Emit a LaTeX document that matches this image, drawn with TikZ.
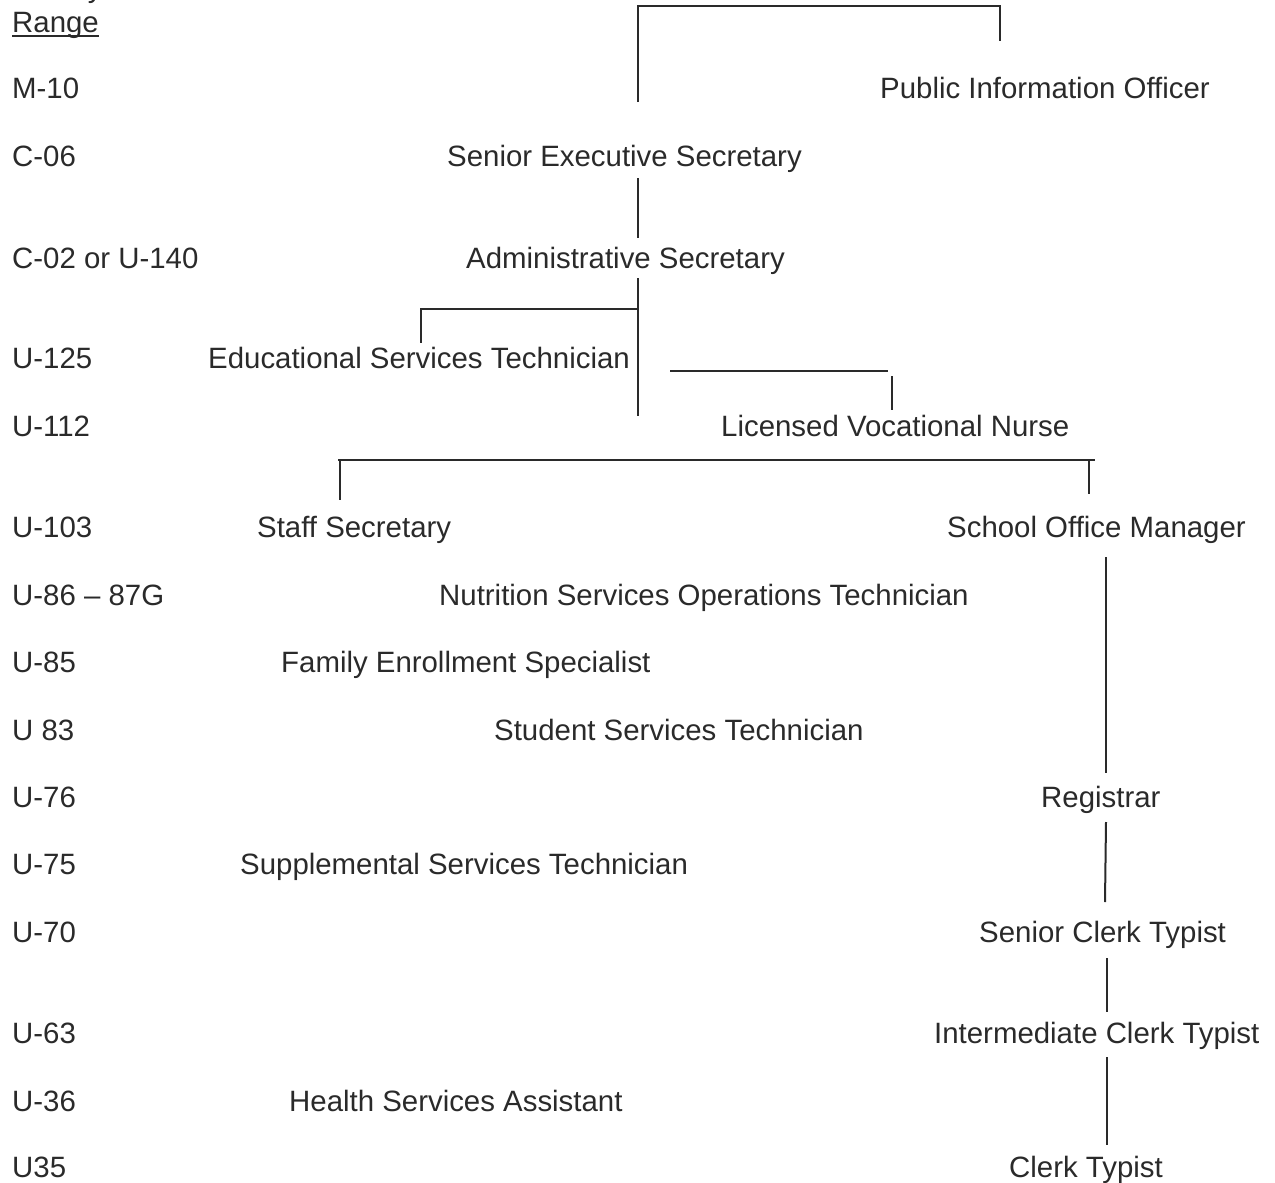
\documentclass[tikz,border=0pt]{standalone}
\usepackage{fontspec}
\setmainfont{Liberation Sans}
\definecolor{ink}{HTML}{2A2A2A}
\begin{document}
\begin{tikzpicture}[x=1pt,y=-1pt,
  lbl/.style={anchor=base west,inner sep=0pt,text=ink,font=\fontsize{29.4}{34}\selectfont},
  conn/.style={draw=ink,line width=2pt}]
\useasboundingbox (0,0) rectangle (1275,1183);
\clip (0,0) rectangle (1275,1183);
% range column
\node[lbl] (sal) at (19,-2) {Salary};
\node[lbl] (rng) at (12,32) {Range};
\draw[ink,line width=1.8pt] (12,36) -- (99,36);
\node[lbl] (r1) at (12,98) {M-10};
\node[lbl] (r2) at (12,166) {C-06};
\node[lbl] (r3) at (12,268) {C-02 or U-140};
\node[lbl] (r4) at (12,368) {U-125};
\node[lbl] (r5) at (12,436) {U-112};
\node[lbl] (r6) at (12,537) {U-103};
\node[lbl] (r7) at (12,605) {U-86 -- 87G};
\node[lbl] (r8) at (12,672) {U-85};
\node[lbl] (r9) at (12,740) {U 83};
\node[lbl] (r10) at (12,807) {U-76};
\node[lbl] (r11) at (12,874) {U-75};
\node[lbl] (r12) at (12,942) {U-70};
\node[lbl] (r13) at (12,1043) {U-63};
\node[lbl] (r14) at (12,1111) {U-36};
\node[lbl] (r15) at (12,1177) {U35};
% positions
\node[lbl] (pio) at (880,98) {Public Information Officer};
\node[lbl] (ses) at (447,166) {Senior Executive Secretary};
\node[lbl] (as) at (466,268) {Administrative Secretary};
\node[lbl] (est) at (208,368) {Educational Services Technician};
\node[lbl] (lvn) at (721,436) {Licensed Vocational Nurse};
\node[lbl] (ss) at (257,537) {Staff Secretary};
\node[lbl] (som) at (947,537) {School Office Manager};
\node[lbl] (nsot) at (439,605) {Nutrition Services Operations Technician};
\node[lbl] (fes) at (281,672) {Family Enrollment Specialist};
\node[lbl] (sst) at (494,740) {Student Services Technician};
\node[lbl] (reg) at (1041,807) {Registrar};
\node[lbl] (supst) at (240,874) {Supplemental Services Technician};
\node[lbl] (sct) at (979,942) {Senior Clerk Typist};
\node[lbl] (ict) at (934,1043) {Intermediate Clerk Typist};
\node[lbl] (hsa) at (289,1111) {Health Services Assistant};
\node[lbl] (ct) at (1009,1177) {Clerk Typist};
% connector points
\coordinate (t1) at (638,102);
\coordinate (t2) at (638,6);
\coordinate (t3) at (1000,6);
\coordinate (t4) at (1000,41);
\coordinate (a1) at (638,178);
\coordinate (a2) at (638,238);
\coordinate (b1) at (638,278);
\coordinate (b2) at (638,416);
\coordinate (b3) at (638,309);
\coordinate (b4) at (421,309);
\coordinate (b5) at (421,343);
\coordinate (c1) at (670,371);
\coordinate (c2) at (888,371);
\coordinate (c3) at (892,376);
\coordinate (c4) at (892,410);
\coordinate (d1) at (338,460);
\coordinate (d2) at (1095,460);
\coordinate (d3) at (340,460);
\coordinate (d4) at (340,500);
\coordinate (d5) at (1089,460);
\coordinate (d6) at (1089,494);
\coordinate (e1) at (1106,557);
\coordinate (e2) at (1106,773);
\coordinate (e3) at (1106,822);
\coordinate (e4) at (1105,902);
\coordinate (e5) at (1107,958);
\coordinate (e6) at (1107,1012);
\coordinate (e7) at (1107,1057);
\coordinate (e8) at (1107,1145);
\draw[conn] (t1) -- (t2) -- (t3) -- (t4);
\draw[conn] (a1) -- (a2);
\draw[conn] (b1) -- (b2);
\draw[conn] (b3) -- (b4) -- (b5);
\draw[conn] (c1) -- (c2);
\draw[conn] (c3) -- (c4);
\draw[conn] (d1) -- (d2);
\draw[conn] (d3) -- (d4);
\draw[conn] (d5) -- (d6);
\draw[conn] (e1) -- (e2);
\draw[conn] (e3) -- (e4);
\draw[conn] (e5) -- (e6);
\draw[conn] (e7) -- (e8);
\end{tikzpicture}
\end{document}
